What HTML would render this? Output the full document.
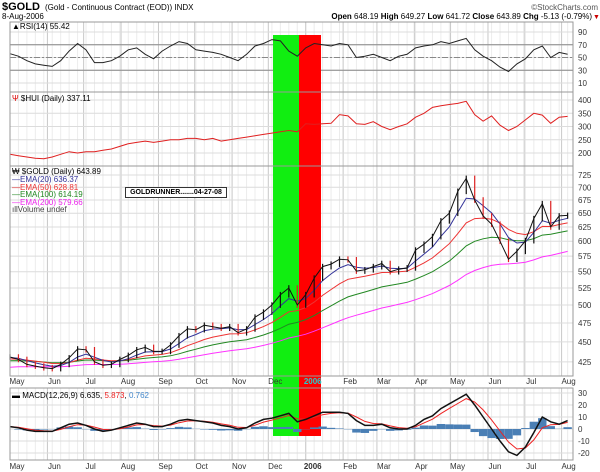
<!DOCTYPE html>
<html><head><meta charset="utf-8"><style>
html,body{margin:0;padding:0;background:#fff;}
svg{display:block;font-family:"Liberation Sans",Arial,sans-serif;}
</style></head><body>
<svg id="c" width="600" height="472" viewBox="0 0 600 472" xmlns="http://www.w3.org/2000/svg">
<text x="2" y="10" font-size="11" font-weight="bold">$GOLD</text>
<text x="45" y="10" font-size="8">(Gold - Continuous Contract (EOD)) INDX</text>
<text x="598" y="10" font-size="8" fill="#555" text-anchor="end">©StockCharts.com</text>
<text x="2" y="19" font-size="8">8-Aug-2006</text>
<text x="592" y="19" font-size="8" text-anchor="end"><tspan font-weight="bold">Open</tspan> 648.19 <tspan font-weight="bold">High</tspan> 649.27 <tspan font-weight="bold">Low</tspan> 641.72 <tspan font-weight="bold">Close</tspan> 643.89 <tspan font-weight="bold">Chg</tspan> -5.13 (-0.79%)</text>
<text x="593" y="19" font-size="7" fill="#c00">▼</text>
<g id="grid"></g>
<g id="bands"></g>
<g id="marks"></g>
<g id="axes"></g>
</svg>
<script>
// ---- data (weekly samples, week 0 = first week of May 2005) ----
const weeks = Array.from({length:67},(_,i)=>i);
const goldClose = [431,428,422,420,418,417,422,430,441,440,425,421,422,428,433,440,443,438,438,446,458,467,466,472,470,468,470,462,467,483,490,500,515,525,500,515,540,558,562,570,569,551,553,558,563,550,554,556,585,595,608,636,650,692,718,675,645,630,600,570,583,601,640,668,625,645,646];
const huiClose = [195,190,185,180,178,185,195,205,200,205,205,210,215,225,235,240,245,240,245,250,250,255,255,250,255,245,250,255,260,265,270,275,280,285,280,310,308,310,312,345,340,310,308,318,300,288,300,310,335,350,372,378,383,387,395,345,320,340,305,285,300,325,350,343,312,335,338];
const rsiValues = [56,52,45,40,38,36,45,60,72,62,42,42,45,52,62,65,55,48,60,68,75,72,62,60,58,55,50,45,55,68,72,78,76,60,52,65,72,70,68,72,70,50,52,55,50,45,52,55,65,68,70,75,72,76,80,62,52,45,35,28,40,48,62,68,50,58,55];
const macdValues = [2,1,-1,-2,-2,-2,1,4,5,3,0,-2,-1,1,3,5,4,2,2,4,7,8,7,6,5,3,2,0,1,5,8,9,11,13,6,8,11,14,14,14,13,7,3,3,4,1,0,0,3,8,11,17,21,25,29,20,10,0,-10,-19,-22,-15,-3,10,6,4,7];
const emaSeeds = {e20:430,e50:428,e100:426,e200:418};
const priceTicks = [425,450,475,500,525,550,575,600,625,650,675,700,725];
const huiTicks = [200,250,300,350,400];
const rsiTicks = [10,30,50,70,90];
const macdTicks = [-20,-10,0,10,20,30];
const monthLabels = ["May","Jun","Jul","Aug","Sep","Oct","Nov","Dec","2006","Feb","Mar","Apr","May","Jun","Jul","Aug"];
const monthDays = [0,31,61,92,123,153,184,214,245,276,304,335,365,396,426,457];

// ---- scales ----
const X0=10, X1=573, PXD=1.207;
const xDay = d => X0 + d*PXD;
const xWeek = w => X0 + w*7*PXD;
const yPrice = p => 175 + (Math.log(725)-Math.log(p))*350;
const yHui = v => 100 + (400-v)*0.265;
const yRsi = v => 32 + (90-v)*0.6375;
const yMacd = v => 429 - v*1.2;
const NS="http://www.w3.org/2000/svg";
function mk(tag, parent, attrs){const e=document.createElementNS(NS,tag);for(const k in attrs)e.setAttribute(k,attrs[k]);document.getElementById(parent).appendChild(e);return e;}
function ema(arr, seed, n){const a=2/(n+1);let v=seed;return arr.map(x=>(v=v+a*(x-v)));}
function pathOf(vals, yf){return vals.map((v,i)=>(i?'L':'M')+xWeek(weeks[i]).toFixed(1)+' '+yf(v).toFixed(1)).join(' ');}

const panels=[{t:22,b:92},{t:92,b:166},{t:166,b:376},{t:388,b:460}];
panels.forEach((p,pi)=>{
  for(let w=0;w<=66;w++){const x=xWeek(w);
    const l=mk('line','grid',{x1:x,x2:x,y1:p.t,y2:p.b,stroke:'#ececec','stroke-width':1});
    
    }
  monthDays.forEach(d=>{const x=xDay(d);
    const l=mk('line','grid',{x1:x,x2:x,y1:p.t,y2:p.b,stroke:'#c8c8c8','stroke-width':1});
    
    });
  const r=mk('rect','axes',{x:X0,y:p.t,width:X1-X0,height:p.b-p.t,fill:'none',stroke:'#999','stroke-width':1});
  
  
});
function hTicks(ticks, yf, name){
  ticks.forEach(t=>{const y=yf(t);
    const l=mk('line','grid',{x1:X0,x2:X1,y1:y,y2:y,stroke:'#dcdcdc','stroke-width':1});
    
    
    const tx=mk('text','axes',{x:578,y:y+3,'font-size':8,fill:'#333'});tx.textContent=t;
    
    });
}
hTicks(rsiTicks,yRsi,'rsi');hTicks(huiTicks,yHui,'hui');hTicks(priceTicks,yPrice,'price');hTicks(macdTicks,yMacd,'macd');
[70,30].forEach(v=>{const l=mk('line','grid',{x1:X0,x2:X1,y1:yRsi(v),y2:yRsi(v),stroke:'#888','stroke-width':1});
  
  });
{const l=mk('line','grid',{x1:X0,x2:X1,y1:yRsi(50),y2:yRsi(50),stroke:'#888','stroke-width':1,'stroke-dasharray':'6,2,2,2'});
 
 }

{const g=mk('rect','bands',{x:273,y:35,width:26,height:401,fill:'#11ee11'});
 
 
 const r=mk('rect','bands',{x:299,y:35,width:22,height:401,fill:'#ff0000'});
 
 }

monthDays.forEach((d,i)=>{[381,466].forEach(y=>{
  const t=mk('text','axes',{x:xDay(d)+7,y:y+3,'font-size':8,'text-anchor':'middle',fill:(i==8&&y==381)?'#22cccc':'#333','font-weight':i==8?'bold':'normal'});
  t.textContent=monthLabels[i];
  
  });});

{const p=mk('path','marks',{d:pathOf(rsiValues,yRsi),fill:'none',stroke:'#222','stroke-width':1});
 
 }
{const p=mk('path','marks',{d:pathOf(huiClose,yHui),fill:'none',stroke:'#e02020','stroke-width':1});
 
 }
const e20=ema(goldClose,emaSeeds.e20,4),e50=ema(goldClose,emaSeeds.e50,10),e100=ema(goldClose,emaSeeds.e100,20),e200=ema(goldClose,emaSeeds.e200,40);
[[e200,'#ff33ff','ema200-line'],[e100,'#228822','ema100-line'],[e50,'#ee3333','ema50-line'],[e20,'#333399','ema20-line']].forEach(([v,c,n])=>{
  const p=mk('path','marks',{d:pathOf(v,yPrice),fill:'none',stroke:c,'stroke-width':1});
  
  });
goldClose.forEach((c,i)=>{const prev=i?goldClose[i-1]:c;const x=xWeek(weeks[i]);
  const hi=Math.max(c,prev)*1.008, lo=Math.min(c,prev)*0.992;
  const b=mk('line','marks',{x1:x,x2:x,y1:yPrice(hi),y2:yPrice(lo),stroke:c>=prev?'#111':'#dd2222','stroke-width':1.2});
  
  });
{const p=mk('path','marks',{d:pathOf(goldClose,yPrice),fill:'none',stroke:'#111','stroke-width':1});
 
 }
const sig=ema(macdValues,macdValues[0],2.8);
macdValues.forEach((m,i)=>{const h=m-sig[i];const x=xWeek(weeks[i]);
  const r=mk('rect','marks',{x:x-4.2,width:8.4,y:Math.min(yMacd(0),yMacd(h)),height:Math.abs(yMacd(h)-yMacd(0)),fill:'#4a7fb5'});
  
  });
{const s=mk('path','marks',{d:pathOf(sig,yMacd),fill:'none',stroke:'#ee2222','stroke-width':1});
 
 
 const m=mk('path','marks',{d:pathOf(macdValues,yMacd),fill:'none',stroke:'#111','stroke-width':1.5});
 
 }
</script>
<div style="position:absolute;left:0;top:0;width:600px;height:472px;pointer-events:none;font-family:'Liberation Sans',Arial,sans-serif;font-size:8px;line-height:8px;">
 <div style="position:absolute;left:12px;top:23px;">▲RSI(14) 55.42</div>
 <div style="position:absolute;left:12px;top:95px;"><span style="color:#d00">Ψ</span> $HUI (Daily) 337.11</div>
 <div style="position:absolute;left:12px;top:168px;">₩ $GOLD (Daily) 643.89</div>
 <div style="position:absolute;left:12px;top:176px;color:#333399">—EMA(20) 636.37</div>
 <div style="position:absolute;left:12px;top:183.5px;color:#ee3333">—EMA(50) 628.81</div>
 <div style="position:absolute;left:12px;top:191px;color:#228822">—EMA(100) 614.19</div>
 <div style="position:absolute;left:12px;top:198.5px;color:#ee22ee">—EMA(200) 579.66</div>
 <div style="position:absolute;left:12px;top:206px;color:#444">ıllVolume undef</div>
 <div style="position:absolute;left:125px;top:187px;width:100px;height:9px;border:1px solid #333;background:#fff;font-weight:bold;font-size:7px;line-height:9px;text-align:center;white-space:nowrap;overflow:hidden;">GOLDRUNNER.......04-27-08</div>
 <div style="position:absolute;left:12px;top:392px;">▬ MACD(12,26,9) 6.635, <span style="color:#e22">5.873</span>, <span style="color:#48c">0.762</span></div>
</div>
</body></html>
